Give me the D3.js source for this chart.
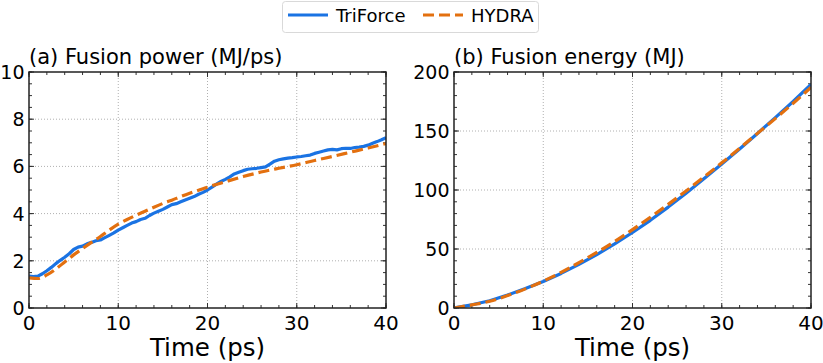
<!DOCTYPE html>
<html>
<head>
<meta charset="utf-8">
<script src="https://cdn.jsdelivr.net/npm/d3@7"></script>
<style>
  body { margin: 0; background: #fff; }
  svg { font-family: "DejaVu Sans", sans-serif; }
</style>
</head>
<body>
<div id="chart"></div>
<script>
// time axis (ps)
const powerTime = d3.range(0, 40.01, 0.5);
// TriForce fusion power (MJ/ps), every 0.5 ps
const powerTriForce = [
  1.35, 1.33, 1.35, 1.45, 1.58, 1.72, 1.88, 2.02, 2.15, 2.30,
  2.48, 2.58, 2.62, 2.72, 2.78, 2.85, 2.88, 2.98, 3.08, 3.18,
  3.30, 3.40, 3.50, 3.60, 3.66, 3.75, 3.80, 3.92, 4.02, 4.10,
  4.18, 4.28, 4.38, 4.42, 4.50, 4.58, 4.65, 4.72, 4.82, 4.90,
  5.00, 5.12, 5.25, 5.36, 5.45, 5.56, 5.68, 5.75, 5.82, 5.88,
  5.90, 5.92, 5.95, 5.98, 6.10, 6.22, 6.28, 6.32, 6.35, 6.37,
  6.40, 6.42, 6.45, 6.48, 6.55, 6.60, 6.65, 6.70, 6.72, 6.70,
  6.75, 6.77, 6.76, 6.80, 6.82, 6.85, 6.90, 6.98, 7.05, 7.13,
  7.22
];
// HYDRA fusion power (MJ/ps)
const hydraTime = [0, 1, 2, 3, 4, 5, 6, 7, 8, 9, 10, 11, 12, 13, 14, 15, 16, 17, 18, 19, 20,
  22, 24, 26, 28, 30, 32, 34, 36, 38, 40];
const powerHydra = [1.28, 1.25, 1.40, 1.65, 1.95, 2.25, 2.52, 2.78, 3.03, 3.30, 3.55,
  3.75, 3.93, 4.10, 4.27, 4.43, 4.57, 4.72, 4.86, 4.99, 5.12,
  5.35, 5.57, 5.76, 5.92, 6.07, 6.25, 6.42, 6.60, 6.78, 6.97];

// fusion energy (MJ)
const energyTime = d3.range(0, 40.01, 2);
const energyTriForce = [0, 2.7, 6.2, 11.0, 16.5, 22.5, 29.3, 37.0, 45.3, 54.3, 64.0,
  74.3, 85.5, 97.3, 109.5, 122.0, 134.8, 147.9, 161.3, 175.0, 189.5];
const energyHydra = [0, 2.6, 5.7, 10.5, 16.2, 22.8, 30.2, 38.4, 47.1, 56.4, 66.4,
  76.9, 87.8, 99.2, 111.0, 123.0, 135.3, 148.0, 160.5, 173.5, 187.0];

const xTicks = [0, 10, 20, 30, 40];
const seriesNames = ["TriForce", "HYDRA"];
const colors = { TriForce: "#1a73e3", HYDRA: "#e3700f" };

const W = 823, H = 363;
const svg = d3.select("#chart").append("svg")
  .attr("width", W).attr("height", H);

const panels = [
  {
    left: 29, right: 386, top: 72, bottom: 308,
    yDomain: [0, 10], yTicks: [0, 2, 4, 6, 8, 10], yMinor: 0.5,
    title: "(a) Fusion power (MJ/ps)",
    tri: powerTime.map((t, i) => [t, powerTriForce[i]]),
    hyd: hydraTime.map((t, i) => [t, powerHydra[i]])
  },
  {
    left: 454, right: 811, top: 72, bottom: 308,
    yDomain: [0, 200], yTicks: [0, 50, 100, 150, 200], yMinor: 10,
    title: "(b) Fusion energy (MJ)",
    tri: energyTime.map((t, i) => [t, energyTriForce[i]]),
    hyd: energyTime.map((t, i) => [t, energyHydra[i]])
  }
];

panels.forEach((p, k) => {
  const x = d3.scaleLinear().domain([0, 40]).range([p.left, p.right]);
  const y = d3.scaleLinear().domain(p.yDomain).range([p.bottom, p.top]);
  const g = svg.append("g");
  const clipId = "clip" + k;

  g.append("clipPath").attr("id", clipId)
    .append("rect")
    .attr("x", p.left).attr("y", p.top)
    .attr("width", p.right - p.left).attr("height", p.bottom - p.top);

  // grid
  g.selectAll(".gx").data(xTicks.slice(1, -1)).join("line")
    .attr("x1", d => x(d)).attr("x2", d => x(d))
    .attr("y1", p.top).attr("y2", p.bottom)
    .attr("stroke", "#b0b0b0").attr("stroke-width", 1)
    .attr("stroke-dasharray", "1,2");
  g.selectAll(".gy").data(p.yTicks.slice(1, -1)).join("line")
    .attr("y1", d => y(d)).attr("y2", d => y(d))
    .attr("x1", p.left).attr("x2", p.right)
    .attr("stroke", "#b0b0b0").attr("stroke-width", 1)
    .attr("stroke-dasharray", "1,2");

  // inward ticks on all four sides
  const xMinor = d3.range(0, 40.01, 2);
  const yMinorVals = d3.range(p.yDomain[0], p.yDomain[1] + 1e-6, p.yMinor);
  const tickG = g.append("g").attr("stroke", "#333").attr("stroke-width", 1);
  [[xMinor, 3], [xTicks, 5]].forEach(([vals, len]) => {
    vals.forEach(v => {
      tickG.append("line").attr("x1", x(v)).attr("x2", x(v))
        .attr("y1", p.bottom).attr("y2", p.bottom - len);
      tickG.append("line").attr("x1", x(v)).attr("x2", x(v))
        .attr("y1", p.top).attr("y2", p.top + len);
    });
  });
  [[yMinorVals, 3], [p.yTicks, 5]].forEach(([vals, len]) => {
    vals.forEach(v => {
      tickG.append("line").attr("y1", y(v)).attr("y2", y(v))
        .attr("x1", p.left).attr("x2", p.left + len);
      tickG.append("line").attr("y1", y(v)).attr("y2", y(v))
        .attr("x1", p.right).attr("x2", p.right - len);
    });
  });

  // lines
  const line = d3.line().x(d => x(d[0])).y(d => y(d[1]));
  const lg = g.append("g").attr("clip-path", `url(#${clipId})`);
  lg.append("path").datum(p.tri)
    .attr("d", line).attr("fill", "none")
    .attr("stroke", colors.TriForce).attr("stroke-width", 3.2)
    .attr("stroke-linejoin", "round");
  lg.append("path").datum(p.hyd)
    .attr("d", line.curve(d3.curveMonotoneX)).attr("fill", "none")
    .attr("stroke", colors.HYDRA).attr("stroke-width", 3.2)
    .attr("stroke-dasharray", "11,5");

  // frame
  g.append("rect")
    .attr("x", p.left).attr("y", p.top)
    .attr("width", p.right - p.left).attr("height", p.bottom - p.top)
    .attr("fill", "none").attr("stroke", "#222").attr("stroke-width", 1.5);

  // tick labels
  g.selectAll(".xl").data(xTicks).join("text")
    .attr("x", d => x(d)).attr("y", p.bottom + 22)
    .attr("text-anchor", "middle").attr("font-size", 20)
    .text(d => d);
  g.selectAll(".yl").data(p.yTicks).join("text")
    .attr("x", p.left - 4.5).attr("y", d => y(d) + 7)
    .attr("text-anchor", "end").attr("font-size", 19)
    .text(d => d);

  // titles
  g.append("text").attr("x", p.left).attr("y", 64)
    .attr("font-size", 21).text(p.title);
  g.append("text").attr("x", (p.left + p.right) / 2).attr("y", 356)
    .attr("text-anchor", "middle").attr("font-size", 24.5)
    .text("Time (ps)");
});

// legend
const leg = svg.append("g");
leg.append("rect").attr("x", 282.5).attr("y", 1.5).attr("width", 256).attr("height", 31)
  .attr("rx", 3).attr("fill", "#fff").attr("stroke", "#d9d9d9");
const legX = [288, 423];
seriesNames.forEach((name, i) => {
  leg.append("line")
    .attr("x1", legX[i]).attr("x2", legX[i] + 40)
    .attr("y1", 15).attr("y2", 15)
    .attr("stroke", colors[name]).attr("stroke-width", 3.2)
    .attr("stroke-dasharray", name === "HYDRA" ? "11,5" : null);
  leg.append("text").attr("x", legX[i] + 48).attr("y", 21.5)
    .attr("font-size", 18).text(name);
});
</script>
</body>
</html>
